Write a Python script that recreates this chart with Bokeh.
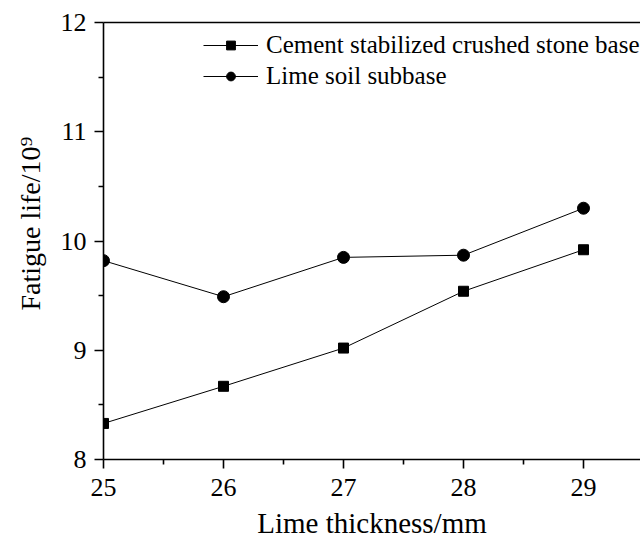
from bokeh.plotting import figure
from bokeh.models import (Range1d, FixedTicker, LinearAxis, Legend, LegendItem, Title)
from bokeh.embed import file_html
from bokeh.resources import INLINE

thickness = [25, 26, 27, 28, 29]
cement_base = [8.33, 8.67, 9.02, 9.54, 9.92]
lime_subbase = [9.82, 9.49, 9.85, 9.87, 10.30]
x_ticks = [25, 26, 27, 28, 29]
x_minor = [25.5, 26.5, 27.5, 28.5, 29.5]
y_ticks = [8, 9, 10, 11, 12]
y_minor = [8.5, 9.5, 10.5, 11.5]

FONT = "Liberation Serif"

p = figure(width=640, height=541, output_backend="svg", toolbar_location=None,
           x_range=Range1d(25, 29.475), y_range=Range1d(8, 12),
           min_border_left=103, min_border_right=0, min_border_top=22, min_border_bottom=10)
p.outline_line_color = None
p.grid.visible = False
p.background_fill_color = "white"
p.border_fill_color = "white"

for ax, ticks, minor in ((p.xaxis[0], x_ticks, x_minor), (p.yaxis[0], y_ticks, y_minor)):
    ax.ticker = FixedTicker(ticks=ticks, minor_ticks=minor)
    ax.axis_line_width = 1.6
    ax.axis_line_color = "black"
    ax.major_tick_line_width = 1.6
    ax.minor_tick_line_width = 1.6
    ax.major_tick_in = 0
    ax.major_tick_out = 9
    ax.minor_tick_in = 0
    ax.minor_tick_out = 5
    ax.major_label_text_font = FONT
    ax.major_label_text_font_size = "26px"
    ax.major_label_text_color = "black"
    ax.axis_label_text_font = FONT
    ax.axis_label_text_font_size = "29px"
    ax.axis_label_text_font_style = "normal"
    ax.axis_label_text_color = "black"

p.xaxis[0].axis_label = "Lime thickness/mm"
p.xaxis[0].major_label_standoff = 10
p.xaxis[0].axis_label_standoff = 8
p.yaxis[0].major_label_standoff = 8

ylab = Title(text="Fatigue life/10\u2079", align="left", offset=149, standoff=24,
             text_font=FONT, text_font_size="28px", text_font_style="normal",
             text_color="black")
p.add_layout(ylab, "left")

top = LinearAxis(ticker=FixedTicker(ticks=[]), major_label_text_font_size="0px",
                 axis_line_width=1.6, major_tick_line_color=None, minor_tick_line_color=None)
p.add_layout(top, "above")

r1 = p.line(thickness, cement_base, line_color="black", line_width=1)
s1 = p.scatter(thickness, cement_base, marker="square", size=10, color="black")
r2 = p.line(thickness, lime_subbase, line_color="black", line_width=1)
s2 = p.scatter(thickness, lime_subbase, marker="circle", size=12, color="black")

legend = Legend(items=[
    LegendItem(label="Cement stabilized crushed stone base", renderers=[r1, s1]),
    LegendItem(label="Lime soil subbase", renderers=[r2, s2]),
], location=(100, 369))
legend.label_text_font = FONT
legend.label_text_font_size = "25px"
legend.label_text_color = "black"
legend.glyph_width = 55
legend.glyph_height = 22
legend.label_height = 22
legend.spacing = 3
legend.padding = 2
legend.margin = 0
legend.label_standoff = 8
legend.border_line_color = None
legend.background_fill_alpha = 0
p.add_layout(legend, "center")

open("out.html", "w").write(file_html(p, INLINE))
